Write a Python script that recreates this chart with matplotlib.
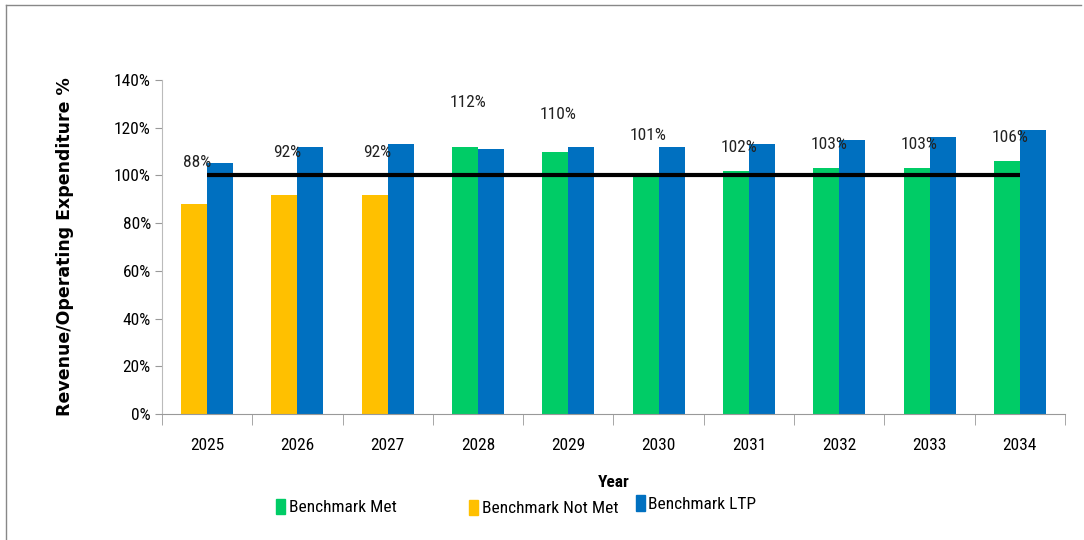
import numpy as np
import matplotlib.pyplot as plt
from matplotlib.lines import Line2D
from matplotlib.patches import Patch

years = ['2025', '2026', '2027', '2028', '2029', '2030', '2031', '2032', '2033', '2034']
benchmark = [88, 92, 92, 112, 110, 101, 102, 103, 103, 106]
ltp = [105, 112, 113, 111, 112, 112, 113, 115, 116, 119]
target = 100

# where each value label sits above its bar, in points
label_offsets = [30, 30, 30, 32, 27, 27, 17, 17, 17, 17]

narrow = ['Roboto Condensed', 'DejaVu Sans Condensed', 'Liberation Sans Narrow',
          'Arial Narrow', 'Roboto', 'DejaVu Sans']
green = '#00CC66'
yellow = '#FFC000'
blue = '#0070C0'

fig = plt.figure(figsize=(10.84, 5.40), dpi=100)
ax = fig.add_axes([0.1494, 0.2333, 0.8331, 0.6186])

x = np.arange(len(years))
w = 0.288
bench = np.array(benchmark, dtype=float)
met = np.where(bench >= target, bench, np.nan)
not_met = np.where(bench < target, bench, np.nan)

ax.bar(x - w / 2, met, w, color=green)
ax.bar(x - w / 2, not_met, w, color=yellow)
ax.bar(x + w / 2, ltp, w, color=blue)
ax.plot(x, [target] * len(x), color='black', lw=3, solid_capstyle='butt')

for xi, v, off in zip(x, benchmark, label_offsets):
    ax.annotate('{}%'.format(v), (xi - w / 2 + 0.03, v), xytext=(0, off),
                textcoords='offset points', ha='center', va='center',
                fontsize=12.5, family=narrow, color='#222222')

ax.set_xlim(-0.5, len(years) - 0.5)
ax.set_ylim(0, 140)
ax.set_yticks(np.arange(0, 141, 20))
ax.set_yticklabels(['{}%'.format(t) for t in range(0, 141, 20)], family=narrow, fontsize=12.5)
ax.set_xticks(x)
ax.set_xticklabels(years, family=narrow, fontsize=12.5)
ax.set_xticks(np.arange(-0.5, len(years), 1), minor=True)
ax.tick_params(axis='x', which='major', length=0, pad=17)
ax.tick_params(axis='x', which='minor', length=8, color='#999999', direction='out')
ax.tick_params(axis='y', length=5, color='#999999', pad=3)

for s in ['top', 'right']:
    ax.spines[s].set_visible(False)
ax.spines['left'].set_color('#bbbbbb')
ax.spines['bottom'].set_color('#999999')

ax.set_ylabel('Revenue/Operating Expenditure %', fontsize=12.5, fontweight='bold',
              family='DejaVu Sans', labelpad=29)
ax.set_xlabel('Year', fontsize=12.5, fontweight='bold', family=narrow, labelpad=16)

# legend entries spread out under the axis
entries = [('Benchmark Met', green, 0.247, 0.061),
           ('Benchmark Not Met', yellow, 0.425, 0.059),
           ('Benchmark LTP', blue, 0.579, 0.067)]
for name, col, lx, ly in entries:
    leg = fig.legend(handles=[Patch(color=col, label=name)], loc='center left',
                     bbox_to_anchor=(lx, ly), frameon=False, handlelength=0.5,
                     handleheight=1.0, handletextpad=0.2, borderpad=0,
                     prop={'family': narrow, 'size': 12.5})

# outer frame lines
fig.add_artist(Line2D([6 / 1084, 1081 / 1084], [535 / 540, 535 / 540],
                      transform=fig.transFigure, color='#888888', lw=1))
fig.add_artist(Line2D([6 / 1084, 6 / 1084], [0, 535 / 540],
                      transform=fig.transFigure, color='#888888', lw=1))

fig.savefig('out.png', dpi=100)
